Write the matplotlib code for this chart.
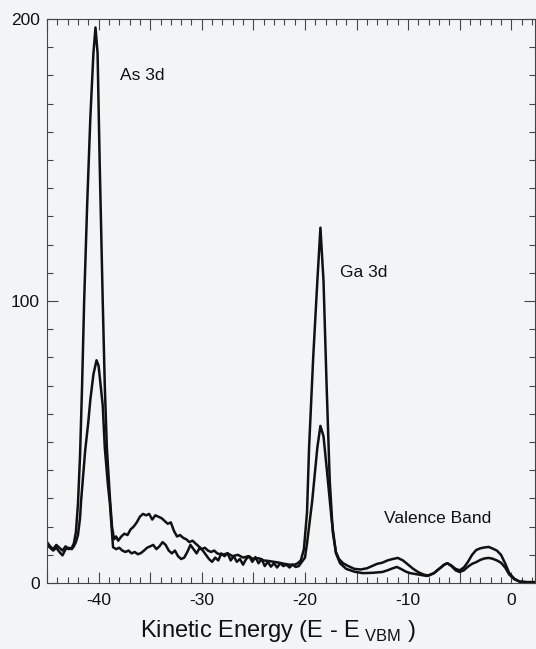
import numpy as np
import matplotlib
matplotlib.use("Agg")
import matplotlib.pyplot as plt
from matplotlib.ticker import MultipleLocator, FuncFormatter

plt.rcParams["font.family"] = ["Liberation Sans", "DejaVu Sans"]
plt.rcParams["mathtext.fontset"] = "custom"
plt.rcParams["mathtext.rm"] = "Liberation Sans"

# -------------------------------------------------------------------
# DATA
# -------------------------------------------------------------------
# upper trace (large As 3d / Ga 3d peaks)
energy_a = [
    -45.0, -44.7, -44.4, -44.1, -43.8, -43.5, -43.2, -42.9, -42.6, -42.4,
    -42.2, -42.0, -41.8, -41.6, -41.4, -41.1, -40.8, -40.5, -40.3, -40.1,
    -39.9, -39.6, -39.4, -39.2, -38.9, -38.7, -38.5, -38.3, -38.1, -37.8,
    -37.5, -37.2, -36.9, -36.6, -36.3, -36.0, -35.7, -35.4, -35.1, -34.8,
    -34.5, -34.2, -33.9, -33.6, -33.3, -33.0, -32.7, -32.4, -32.1, -31.8,
    -31.5, -31.2, -30.9, -30.6, -30.3, -30.0, -29.7, -29.4, -29.1, -28.8,
    -28.5, -28.0, -27.5, -27.0, -26.5, -26.0, -25.5, -25.0, -24.5, -24.0,
    -23.5, -23.0, -22.5, -22.0, -21.5, -21.0, -20.7, -20.4, -20.1, -19.8,
    -19.6, -19.2, -18.8, -18.5, -18.2, -17.9, -17.6, -17.3, -17.0, -16.7,
    -16.3, -15.8, -15.2, -14.6, -14.0, -13.5, -13.0, -12.5, -12.0, -11.5,
    -11.0, -10.5, -10.0, -9.5, -9.0, -8.5, -8.0, -7.5, -7.0, -6.5,
    -6.2, -5.8, -5.4, -5.0, -4.6, -4.2, -3.8, -3.4, -3.0, -2.6,
    -2.2, -1.8, -1.4, -1.0, -0.6, -0.2, 0.3, 0.8, 1.5, 2.3,
]
intensity_a = [
    14.5, 13.0, 12.0, 13.5, 12.5, 11.5, 13.0, 12.0, 12.5, 14.0,
    18, 28, 45, 70, 100, 135, 165, 188, 197, 188,
    150, 100, 70, 48, 30, 20, 15.5, 16.5, 15.0, 16.5,
    17.5, 17.0, 19.0, 20.0, 21.5, 23.5, 24.5, 24.0, 24.5, 22.5,
    24.0, 23.5, 23.0, 22.0, 21.0, 21.5, 18.5, 16.5, 17.0, 16.0,
    15.5, 14.5, 15.0, 14.0, 13.0, 12.0, 12.5, 11.5, 11.0, 11.5,
    10.5, 10.0, 10.5, 9.5, 10.0, 9.0, 9.5, 8.5, 8.8, 8.0,
    7.8, 7.5, 7.2, 6.8, 6.5, 6.5, 7.0, 8.0, 12, 25,
    48, 80, 107, 126, 107, 70, 36.5, 18, 11, 8.5,
    7, 6, 5, 4.8, 5.2, 6, 6.8, 7.2, 8.0, 8.5,
    8.9, 8.0, 6.5, 5.0, 3.8, 3.0, 2.6, 3.5, 5.0, 6.5,
    7.0, 6.2, 5.0, 4.5, 5.5, 7.5, 10.0, 11.7, 12.3, 12.6,
    12.8, 12.2, 11.5, 10.0, 7.0, 3.5, 1.5, 0.5, 0.3, 0.3,
]

# lower trace (smaller peaks)
energy_b = [
    -45.0, -44.7, -44.4, -44.1, -43.8, -43.5, -43.2, -42.9, -42.6, -42.4,
    -42.2, -42.0, -41.8, -41.7, -41.5, -41.3, -41.0, -40.8, -40.5, -40.2,
    -40.0, -39.8, -39.6, -39.4, -39.1, -38.9, -38.7, -38.6, -38.3, -38.0,
    -37.7, -37.4, -37.1, -36.8, -36.5, -36.2, -35.9, -35.6, -35.3, -35.0,
    -34.7, -34.4, -34.1, -33.8, -33.5, -33.2, -32.9, -32.6, -32.3, -32.0,
    -31.7, -31.4, -31.1, -30.8, -30.5, -30.2, -29.9, -29.6, -29.3, -29.0,
    -28.7, -28.4, -28.1, -27.8, -27.5, -27.2, -26.9, -26.6, -26.3, -26.0,
    -25.7, -25.4, -25.1, -24.8, -24.5, -24.2, -23.9, -23.6, -23.3, -23.0,
    -22.7, -22.4, -22.1, -21.8, -21.5, -21.2, -20.9, -20.6, -20.3, -20.0,
    -19.8, -19.3, -18.8, -18.5, -18.2, -17.9, -17.4, -17.0, -16.6, -16.0,
    -15.2, -14.4, -13.5, -12.5, -12.0, -11.5, -11.1, -10.7, -10.2, -9.8,
    -9.0, -8.2, -7.5, -7.0, -6.5, -6.2, -5.8, -5.4, -5.0, -4.6,
    -4.2, -3.8, -3.4, -3.0, -2.6, -2.2, -1.8, -1.4, -1.0, -0.6,
    -0.2, 0.3, 0.8, 1.5, 2.3,
]
intensity_b = [
    13.5, 12.5, 11.5, 12.5, 11.0, 9.8, 12.0, 12.5, 12.0, 13.0,
    14.5, 17, 23, 29, 38, 47, 57, 65, 74, 79,
    77, 70, 63, 48, 35, 28, 18, 12.7, 12.0, 12.5,
    11.5, 11.0, 11.5, 10.5, 11.0, 10.2, 10.6, 11.5, 12.5, 13.0,
    13.5, 12.0, 13.0, 14.5, 13.5, 11.5, 10.5, 11.5, 9.5, 8.5,
    9.0, 11.0, 13.5, 12.0, 10.5, 12.5, 11.5, 10.0, 8.5, 7.5,
    9.0, 8.0, 10.5, 9.5, 10.6, 8.0, 9.5, 7.5, 8.5, 6.5,
    8.5, 9.5, 7.5, 9.2, 7.0, 8.5, 6.0, 7.5, 5.8, 7.0,
    5.5, 7.0, 6.0, 6.5, 5.5, 6.5, 5.7, 6.0, 7.5, 9,
    14, 29, 48, 55.7, 52, 41, 22, 10.6, 7, 5,
    4, 3.5, 3.6, 3.9, 4.5, 5.2, 5.7, 5.0, 4.0, 3.5,
    3.0, 2.5, 3.5, 5.0, 6.5, 7.0, 6.0, 4.5, 3.9, 4.5,
    5.8, 6.8, 7.4, 8.2, 8.7, 8.9, 8.6, 8.0, 7.2, 5.5,
    3.0, 1.3, 0.5, 0.3, 0.3,
]

peak_labels = ["As 3d", "Ga 3d", "Valence Band"]
label_pos = [(-37.9, 180), (-16.6, 110), (-12.3, 23)]

# -------------------------------------------------------------------
# FIGURE
# -------------------------------------------------------------------
bg = "#f3f4f6"
fig = plt.figure(figsize=(5.36, 6.49), dpi=100, facecolor=bg)
ax = fig.add_axes([0.0877, 0.1017, 0.9105, 0.869], facecolor=bg)

ax.plot(energy_a, intensity_a, color="#111111", lw=1.8)
ax.plot(energy_b, intensity_b, color="#111111", lw=1.8)

for txt, (x, y) in zip(peak_labels, label_pos):
    ax.text(x, y, txt, fontsize=12.5, va="center", ha="left", color="#111111")

ax.set_xlim(-45.0, 2.3)
ax.set_ylim(0, 200)

ax.xaxis.set_major_locator(MultipleLocator(5))
ax.xaxis.set_minor_locator(MultipleLocator(1))
ax.xaxis.set_major_formatter(
    FuncFormatter(lambda v, p: f"{int(round(v))}" if round(v) % 10 == 0 else "")
)
ax.yaxis.set_major_locator(MultipleLocator(100))
ax.yaxis.set_minor_locator(MultipleLocator(10))

ax.tick_params(which="both", direction="in", top=True, right=True,
               color="#444444", width=0.8, labelsize=12.5, labelcolor="#111111")
ax.tick_params(which="major", length=8, pad=7)
ax.tick_params(which="minor", length=4)
ax.tick_params(axis="y", which="major", pad=5)

for s in ax.spines.values():
    s.set_color("#444444")
    s.set_linewidth(0.8)

ax.set_xlabel(r"Kinetic Energy (E - E$_{\ \mathrm{VBM}}$ )", fontsize=17,
              color="#111111")
# label sits a little left of centre in the original
ax.xaxis.set_label_coords(0.474, -0.062)

fig.savefig("out.png", dpi=100, facecolor=bg)
